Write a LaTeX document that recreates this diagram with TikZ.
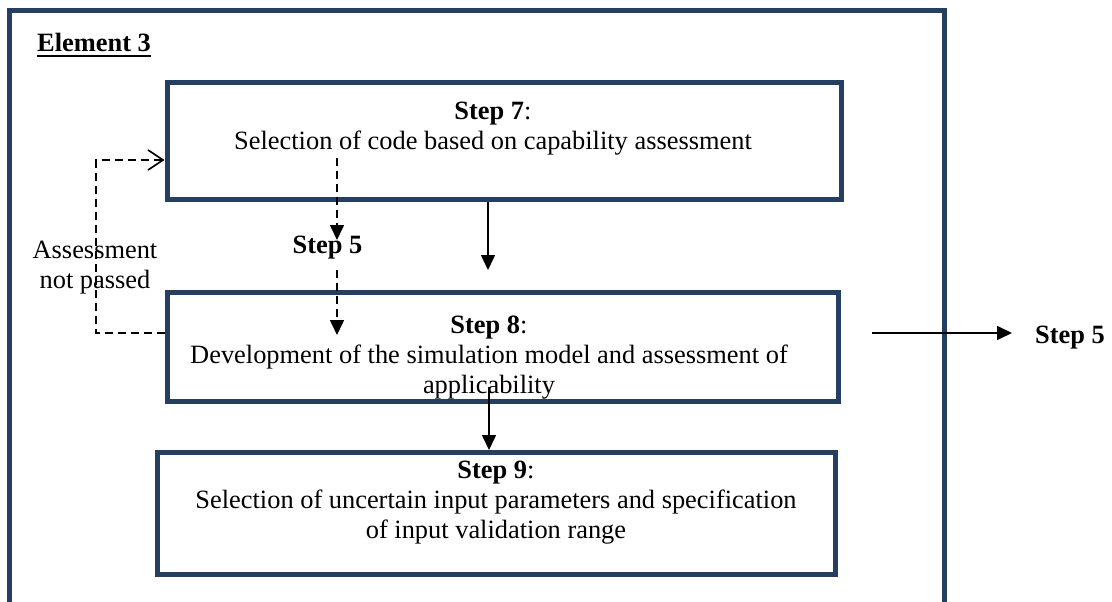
\documentclass[tikz,border=0pt]{standalone}
\usepackage{fontspec}
\setmainfont{Liberation Serif}
\usetikzlibrary{arrows.meta}
\definecolor{frameblue}{RGB}{37,63,97}
\begin{document}
\begin{tikzpicture}[x=1pt,y=-1pt,
  stepbox/.style={draw=frameblue, line width=5pt, rectangle, inner sep=0pt},
  body/.style={font=\fontsize{26.4}{30}\selectfont, align=center, inner sep=0pt},
  boldtxt/.style={body, font=\fontsize{26.4}{30}\selectfont\bfseries},
  flow/.style={line width=1.6pt, -{Triangle[length=15pt,width=14pt]}},
  dflow/.style={flow, dash pattern=on 8pt off 5pt},
  backloop/.style={line width=1.6pt, dash pattern=on 8pt off 5pt,
    -{Straight Barb[length=15pt,width=20pt,line width=1.6pt]}}
]
\useasboundingbox (0,0) rectangle (1112,602);

% outer frame, open at the bottom
\draw[frameblue, line width=5pt] (9.5,602) |- (944.5,10.5) -- (944.5,602);

% heading
\node[boldtxt, anchor=base west] (elem) at (37,52) {Element 3};
\draw[line width=2.6pt] ([yshift=-4pt]elem.base west) -- ([yshift=-4pt]elem.base east);

% step boxes
\node[stepbox, minimum width=674pt, minimum height=116.5pt] (s7) at (504,141.25) {};
\node[stepbox, minimum width=671.5pt, minimum height=108.5pt] (s8) at (502.75,346.75) {};
\node[stepbox, minimum width=678pt, minimum height=122pt] (s9) at (496.5,513.5) {};

% box texts (base anchor = baseline of the last line)
\node[body, anchor=base] (t7) at (493,149.5) {\textbf{Step 7}:\\Selection of code based on capability assessment};
\node[body, anchor=base] (t8) at (489,393) {\textbf{Step 8}:\\Development of the simulation model and assessment of\\applicability};
\node[body, anchor=base] (t9) at (496,538) {\textbf{Step 9}:\\Selection of uncertain input parameters and specification\\of input validation range};

% side labels
\node[body, anchor=base] (fail) at (95,288) {Assessment\\not passed};
\node[boldtxt, anchor=base] (s5m) at (327.5,253) {Step 5};
\node[boldtxt, anchor=base west, inner xsep=23pt] (s5r) at (1012,343) {Step 5};

% connector end points
\coordinate (p78) at (488,270);
\coordinate (p89) at (489,387);
\coordinate (ho) at (872,333);
\coordinate (d1) at (337,158);
\coordinate (d2) at (337,240);
\coordinate (d3) at (337,270);
\coordinate (d4) at (337,335);
\coordinate (lb) at (96,333);
\coordinate (lt) at (96,160);

% main flow
\draw[flow] (s7.south -| p78) -- (p78);
\draw[flow] (p89) -- (p89 |- s9.north);
\draw[flow] (ho) -- (s5r.west |- ho);

% dashed return paths
\draw[dflow] (d1) -- (d2);
\draw[dflow] (d3) -- (d4);
\draw[backloop] (s8.west |- lb) -- (lb) -- (lt) -- (s7.west |- lt);
\end{tikzpicture}
\end{document}
